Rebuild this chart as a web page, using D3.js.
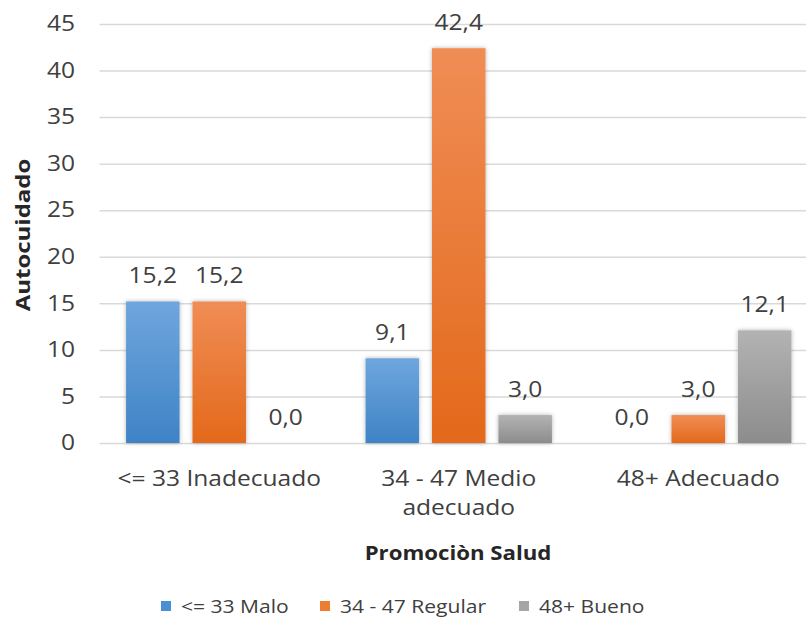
<!DOCTYPE html>
<html>
<head>
<meta charset="utf-8">
<script src="https://cdn.jsdelivr.net/npm/d3@7"></script>
<style>
  html, body { margin: 0; padding: 0; background: #fff; }
  svg { display: block; font-family: "Open Sans", "Noto Sans", sans-serif; }
</style>
</head>
<body>
<svg id="chart" width="806" height="623"></svg>
<script>
// Categories on the x axis (Promoción Salud levels)
const categories = ["<= 33 Inadecuado", "34 - 47 Medio adecuado", "48+ Adecuado"];
const categoryLines = [["<= 33 Inadecuado"], ["34 - 47 Medio", "adecuado"], ["48+ Adecuado"]];
// Series (Autocuidado levels)
const seriesNames = ["<= 33 Malo", "34 - 47 Regular", "48+ Bueno"];
const maloValues = [15.2, 9.1, 0.0];
const regularValues = [15.2, 42.4, 3.0];
const buenoValues = [0.0, 3.0, 12.1];
const yTicks = [0, 5, 10, 15, 20, 25, 30, 35, 40, 45];

const seriesValues = [maloValues, regularValues, buenoValues];
const colors = [
  { top: "#6fa6dd", bottom: "#3e83c6", key: "#4a8fd3" },
  { top: "#f08d55", bottom: "#e3691b", key: "#ed7d31" },
  { top: "#b3b3b3", bottom: "#8c8c8c", key: "#a5a5a5" }
];

// Horizontal widening applied to all text (wide Calibri-like lettering)
const SX = 1.17;

const svg = d3.select("#chart");
const plotLeft = 99.5, plotRight = 818, plotTop = 24, plotBottom = 443;

const x0 = d3.scaleBand().domain(categories).range([plotLeft, plotRight]).padding(0);
const x1 = d3.scaleBand().domain(seriesNames).range([0, x0.bandwidth()])
  .paddingInner(0.195).paddingOuter(0.40);
const y = d3.scaleLinear().domain([0, 45]).range([plotBottom, plotTop]);

// Text placed at (x, y) and widened around that anchor point
function wideText(parent, x, yPos) {
  return parent.append("g").attr("transform", `translate(${x},${yPos}) scale(${SX},1)`)
    .append("text");
}

const defs = svg.append("defs");
colors.forEach((c, i) => {
  const g = defs.append("linearGradient").attr("id", "grad" + i)
    .attr("x1", 0).attr("y1", 0).attr("x2", 0).attr("y2", 1);
  g.append("stop").attr("offset", "0%").attr("stop-color", c.top);
  g.append("stop").attr("offset", "100%").attr("stop-color", c.bottom);
});
const f = defs.append("filter").attr("id", "shadow")
  .attr("x", "-20%").attr("y", "-20%").attr("width", "140%").attr("height", "140%");
f.append("feDropShadow").attr("dx", 0).attr("dy", 0).attr("stdDeviation", 2.2)
  .attr("flood-color", "#000").attr("flood-opacity", 0.3);

// Gridlines and y tick labels
const yAxis = d3.axisLeft(y).tickValues(yTicks).tickSize(-(plotRight - plotLeft)).tickPadding(0);
const ya = svg.append("g").attr("transform", `translate(${plotLeft},0)`).call(yAxis);
ya.select(".domain").remove();
ya.selectAll(".tick line").attr("stroke", "#d9d9d9").attr("stroke-width", 1.5);
ya.selectAll(".tick text")
  .attr("x", -24.5 / SX)
  .attr("transform", `scale(${SX},1)`)
  .attr("fill", "#404040").attr("font-size", 21)
  .attr("font-family", "'Open Sans', sans-serif");

// Bars
const groups = svg.append("g").selectAll("g").data(categories).join("g")
  .attr("transform", d => `translate(${x0(d)},0)`);

groups.each(function(cat, ci) {
  const g = d3.select(this);
  seriesNames.forEach((s, si) => {
    const v = seriesValues[si][ci];
    if (v > 0) {
      g.append("rect")
        .attr("x", x1(s)).attr("width", x1.bandwidth())
        .attr("y", y(v)).attr("height", y(0) - y(v))
        .attr("fill", `url(#grad${si})`)
        .attr("filter", "url(#shadow)");
    }
    wideText(g, x1(s) + x1.bandwidth() / 2, y(v) - 18)
      .attr("text-anchor", "middle")
      .attr("fill", "#404040").attr("font-size", 21)
      .text(v.toFixed(1).replace(".", ","));
  });
});

// Category labels
categories.forEach((c, i) => {
  const t = wideText(svg, x0(c) + x0.bandwidth() / 2, 486)
    .attr("text-anchor", "middle")
    .attr("fill", "#404040").attr("font-size", 21);
  categoryLines[i].forEach((ln, li) => {
    t.append("tspan").attr("x", 0)
      .attr("dy", li === 0 ? 0 : 29).text(ln);
  });
});

// Axis titles
wideText(svg, 458, 560).attr("text-anchor", "middle")
  .attr("font-weight", "bold").attr("font-size", 19).attr("fill", "#262626")
  .text("Promociòn Salud");
svg.append("text")
  .attr("transform", "translate(30,235) rotate(-90) scale(1.2,1)")
  .attr("text-anchor", "middle")
  .attr("font-weight", "bold").attr("font-size", 20).attr("fill", "#262626")
  .text("Autocuidado");

// Legend
const legendX = [161, 320, 519];
seriesNames.forEach((s, i) => {
  const lg = svg.append("g").attr("transform", `translate(${legendX[i]},601)`);
  lg.append("rect").attr("width", 10).attr("height", 10).attr("fill", colors[i].key);
  wideText(lg, 20, 11.5).attr("font-size", 18)
    .attr("fill", "#404040").text(s);
});
</script>
</body>
</html>
